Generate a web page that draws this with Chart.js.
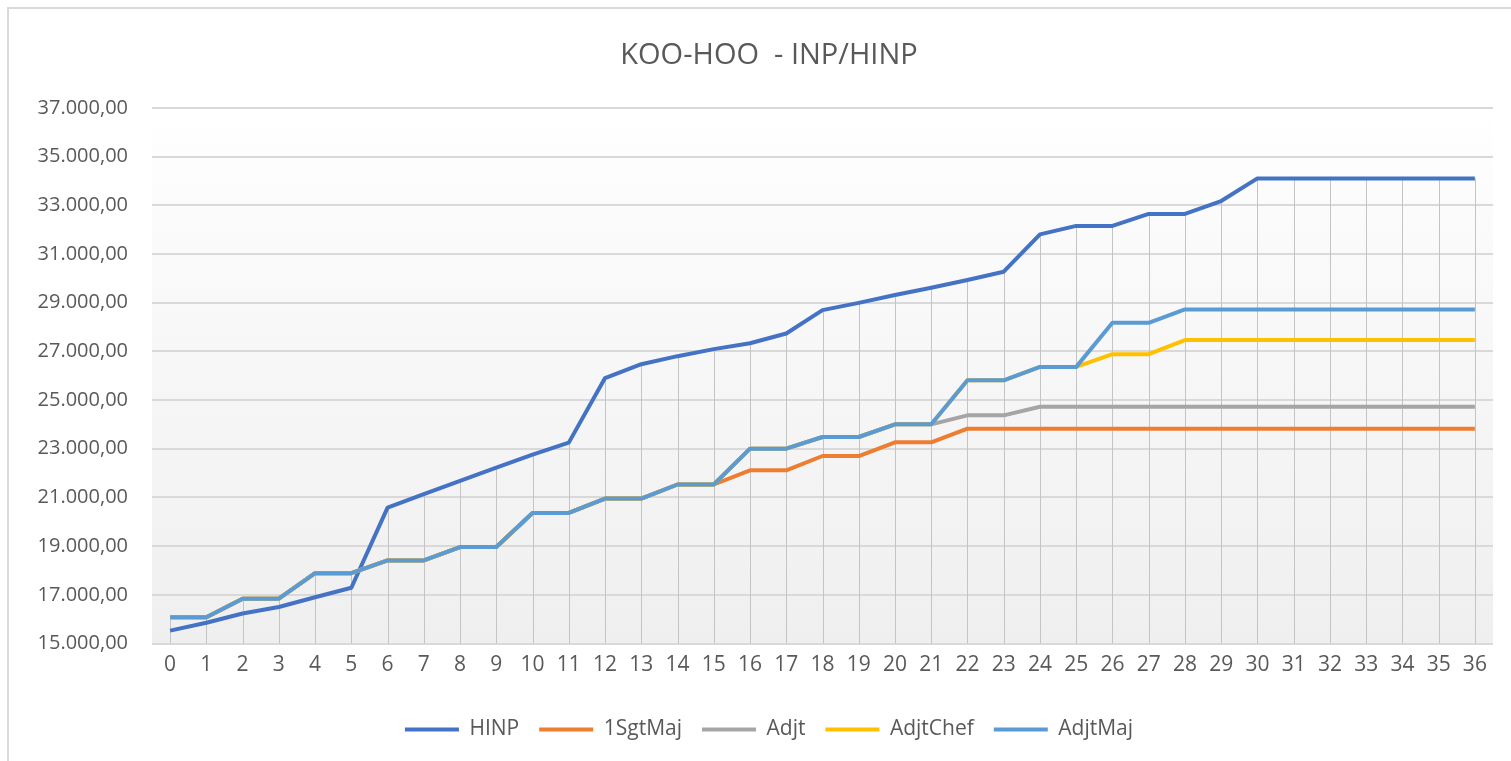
<!DOCTYPE html>
<html>
<head>
<meta charset="utf-8">
<script src="https://cdn.jsdelivr.net/npm/chart.js@4/dist/chart.umd.min.js"></script>
<style>
  html, body { margin: 0; padding: 0; background: #ffffff; overflow: hidden; width: 1511px; height: 761px; }
  #frame { position: absolute; left: 7px; top: 7px; width: 1530px; height: 780px; border: 2px solid #d9d9d9; box-sizing: border-box; }
  #wrap { position: absolute; left: 10px; top: 10px; width: 1518px; height: 751px; }
</style>
</head>
<body>
<div id="frame"></div>
<div id="wrap"><canvas id="c"></canvas></div>
<script>
// ---- data ----
const categories = ['0','1','2','3','4','5','6','7','8','9','10','11','12','13','14','15','16','17','18','19','20','21','22','23','24','25','26','27','28','29','30','31','32','33','34','35','36'];

const HINP = [15530,15850,16230,16500,16900,17290,20580,21130,21680,22220,22760,23250,25900,26470,26800,27090,27330,27730,28690,28990,29310,29610,29930,30270,31800,32150,32150,32640,32640,33170,34100,34100,34100,34100,34100,34100,34100];

const SgtMaj1 = [16080,16080,16840,16840,17890,17890,18410,18410,18960,18960,20360,20360,20950,20950,21530,21530,22110,22110,22700,22700,23260,23260,23820,23820,23820,23820,23820,23820,23820,23820,23820,23820,23820,23820,23820,23820,23820];

const Adjt = [16080,16080,16840,16840,17890,17890,18410,18410,18960,18960,20360,20360,20950,20950,21530,21530,23000,23000,23480,23480,24000,24000,24370,24370,24720,24720,24720,24720,24720,24720,24720,24720,24720,24720,24720,24720,24720];

const AdjtChef = [16080,16080,16840,16840,17890,17890,18410,18410,18960,18960,20360,20360,20950,20950,21530,21530,23000,23000,23480,23480,24000,24000,25810,25810,26360,26360,26880,26880,27460,27460,27460,27460,27460,27460,27460,27460,27460];

const AdjtMaj = [16080,16080,16840,16840,17890,17890,18410,18410,18960,18960,20360,20360,20950,20950,21530,21530,23000,23000,23480,23480,24000,24000,25810,25810,26360,26360,28170,28170,28720,28720,28720,28720,28720,28720,28720,28720,28720];

const seriesNames = ['HINP', '1SgtMaj', 'Adjt', 'AdjtChef', 'AdjtMaj'];
const yMin = 15000, yMax = 37000, yStep = 2000;
const titleText = 'KOO-HOO  - INP/HINP';

// ---- styling ----
const colors = ['#4472C4', '#ED7D31', '#A5A5A5', '#FFC000', '#5B9BD5'];
const FONT = '"Open Sans", "DejaVu Sans", sans-serif';
const allSeries = [HINP, SgtMaj1, Adjt, AdjtChef, AdjtMaj];

function fmt(v) {
  const s = Math.round(v).toString().replace(/\B(?=(\d{3})+(?!\d))/g, '.');
  return s + ',00';
}

const bgPlugin = {
  id: 'plotBg',
  beforeDraw(chart) {
    const { ctx, chartArea: a } = chart;
    const g = ctx.createLinearGradient(0, a.top, 0, a.bottom);
    g.addColorStop(0, '#ffffff');
    g.addColorStop(0.2, '#fbfbfb');
    g.addColorStop(1, '#efefef');
    ctx.save();
    ctx.fillStyle = g;
    ctx.fillRect(a.left, a.top, a.right - a.left, a.bottom - a.top);
    ctx.restore();
  }
};

const dropLines = {
  id: 'dropLines',
  beforeDatasetsDraw(chart) {
    const { ctx, chartArea: a, scales: { x, y } } = chart;
    ctx.save();
    ctx.strokeStyle = '#c4c4c4';
    ctx.lineWidth = 1;
    chart.data.labels.forEach((lab, i) => {
      let m = -Infinity;
      chart.data.datasets.forEach(ds => { if (ds.data[i] > m) m = ds.data[i]; });
      const px = Math.round(x.getPixelForValue(i)) + 0.5;
      ctx.beginPath();
      ctx.moveTo(px, y.getPixelForValue(m));
      ctx.lineTo(px, a.bottom);
      ctx.stroke();
    });
    ctx.restore();
  }
};

const datasets = seriesNames.map((name, i) => ({
  label: name,
  data: allSeries[i],
  borderColor: colors[i],
  backgroundColor: colors[i],
  borderWidth: 4,
  pointRadius: 0,
  pointHoverRadius: 0,
  tension: 0,
  fill: false,
  borderJoinStyle: 'round',
  order: seriesNames.length - i
}));

new Chart(document.getElementById('c'), {
  type: 'line',
  data: { labels: categories, datasets },
  plugins: [bgPlugin, dropLines],
  options: {
    responsive: true,
    maintainAspectRatio: false,
    animation: false,
    events: [],
    layout: { padding: { left: 0, right: 0, top: 0, bottom: 11 } },
    plugins: {
      tooltip: { enabled: false },
      title: {
        display: true,
        text: titleText,
        color: '#595959',
        font: { family: FONT, size: 29, weight: 'normal' },
        padding: { top: 28, bottom: 35 }
      },
      legend: {
        position: 'bottom',
        labels: {
          color: '#595959',
          font: { family: FONT, size: 21 },
          boxWidth: 54,
          boxHeight: 4,
          padding: 20,
          sort: (a, b) => a.datasetIndex - b.datasetIndex,
          generateLabels: (chart) => Chart.defaults.plugins.legend.labels.generateLabels(chart)
            .map(l => Object.assign(l, { fillStyle: l.strokeStyle, lineWidth: 0 }))
        }
      }
    },
    scales: {
      x: {
        offset: true,
        grid: { display: false, drawTicks: false },
        border: { display: false },
        ticks: { color: '#595959', font: { family: FONT, size: 21 }, padding: 9, maxRotation: 0, autoSkip: false },
        afterFit(s) { s.height = 55.5; }
      },
      y: {
        min: yMin, max: yMax,
        grid: { color: '#d9d9d9', lineWidth: 2, drawTicks: false },
        border: { display: false },
        ticks: { stepSize: yStep, color: '#595959', font: { family: FONT, size: 20 }, padding: 24, callback: v => fmt(v) },
        afterFit(s) { s.width = 142; }
      },
      yRight: {
        position: 'right',
        display: true,
        min: yMin, max: yMax,
        grid: { display: false, drawTicks: false },
        border: { display: false },
        ticks: { display: false },
        afterFit(s) { s.width = 35; }
      }
    }
  }
});
</script>
</body>
</html>
